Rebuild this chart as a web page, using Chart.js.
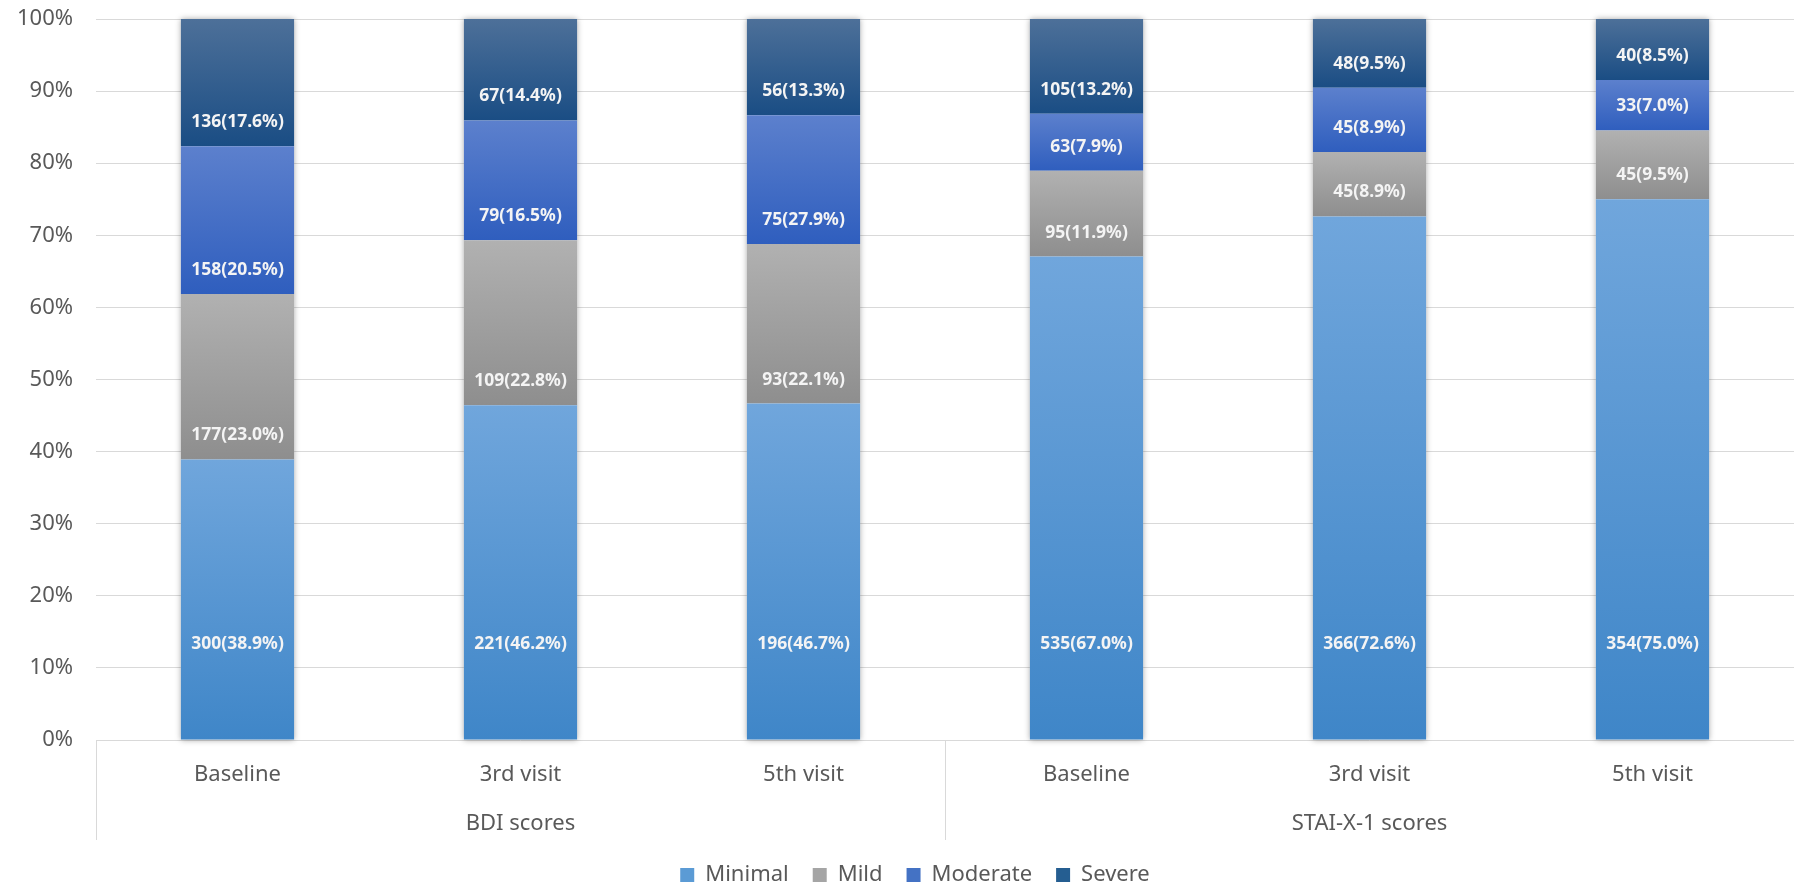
<!DOCTYPE html>
<html>
<head>
<meta charset="utf-8">
<script src="https://cdn.jsdelivr.net/npm/chart.js@4"></script>
<style>
  html, body { margin: 0; padding: 0; background: #ffffff; }
  #wrap { width: 1794px; height: 886px; }
</style>
</head>
<body>
<div id="wrap"><canvas id="scoreChart"></canvas></div>
<script>
const visits = ["Baseline", "3rd visit", "5th visit", "Baseline", "3rd visit", "5th visit"];
const groups = ["BDI scores", "STAI-X-1 scores"];
const levels = ["Minimal", "Mild", "Moderate", "Severe"];

// counts per level
const minimalN  = [300, 221, 196, 535, 366, 354];
const mildN     = [177, 109, 93, 95, 45, 45];
const moderateN = [158, 79, 75, 63, 45, 33];
const severeN   = [136, 67, 56, 105, 48, 40];

// percentages as printed in the labels
const minimalPct  = [38.9, 46.2, 46.7, 67.0, 72.6, 75.0];
const mildPct     = [23.0, 22.8, 22.1, 11.9, 8.9, 9.5];
const moderatePct = [20.5, 16.5, 27.9, 7.9, 8.9, 7.0];
const severePct   = [17.6, 14.4, 13.3, 13.2, 9.5, 8.5];

const yTicks = [0, 10, 20, 30, 40, 50, 60, 70, 80, 90, 100];

const counts = [minimalN, mildN, moderateN, severeN];
const pcts = [minimalPct, mildPct, moderatePct, severePct];
const colorTop = ["#70a6dc", "#b1b1b1", "#5c80cd", "#4d7099"];
const colorBottom = ["#3f86c8", "#8e8e8e", "#2f5ebe", "#1a4d84"];
const legendColor = ["#5b9bd5", "#a5a5a5", "#4472c4", "#255e91"];

// 100% stacked: each bar is its count share of the column total
const totals = visits.map((v, j) => counts.reduce((s, arr) => s + arr[j], 0));
const shares = counts.map(arr => arr.map((n, j) => n / totals[j] * 100));

function segGradient(i) {
  return function(context) {
    const chart = context.chart;
    const {ctx, chartArea, scales} = chart;
    if (!chartArea || context.dataIndex === undefined) return legendColor[i];
    const j = context.dataIndex;
    let base = 0;
    for (let k = 0; k < i; k++) base += shares[k][j];
    const top = scales.y.getPixelForValue(base + shares[i][j]);
    const bottom = scales.y.getPixelForValue(base);
    const g = ctx.createLinearGradient(0, top, 0, bottom);
    g.addColorStop(0, colorTop[i]);
    g.addColorStop(1, colorBottom[i]);
    return g;
  };
}

const textColor = "#595959";
const fontFam = "'Noto Sans', sans-serif";

/* soft shadow behind each whole stack */
const barShadow = {
  id: 'barShadow',
  beforeDatasetsDraw(chart) {
    const ctx = chart.ctx;
    const first = chart.getDatasetMeta(0).data;
    const last = chart.getDatasetMeta(levels.length - 1).data;
    ctx.save();
    ctx.shadowColor = "rgba(0,0,0,0.35)";
    ctx.shadowBlur = 6;
    ctx.fillStyle = "#ffffff";
    first.forEach((el, j) => {
      const w = el.width;
      ctx.fillRect(el.x - w / 2, last[j].y, w, el.base - last[j].y);
    });
    ctx.restore();
  }
};

/* count(pct%) labels near the base of each segment */
const segLabels = {
  id: 'segLabels',
  afterDatasetsDraw(chart) {
    const ctx = chart.ctx;
    ctx.save();
    ctx.font = "bold 17.5px " + fontFam;
    ctx.fillStyle = "#f4f4f4";
    ctx.textAlign = "center";
    ctx.textBaseline = "middle";
    levels.forEach((lv, i) => {
      chart.getDatasetMeta(i).data.forEach((el, j) => {
        const off = i === 0 ? 95 : 24;
        const txt = counts[i][j] + "(" + pcts[i][j].toFixed(1) + "%)";
        ctx.fillText(txt, el.x, el.base - off);
      });
    });
    ctx.restore();
  }
};

/* vertical separators of the grouped category axis */
const groupLines = {
  id: 'groupLines',
  afterDraw(chart) {
    const {ctx, chartArea, scales} = chart;
    const x = scales.x;
    const bottom = scales.x2.bottom;
    const mid = (x.getPixelForValue(2) + x.getPixelForValue(3)) / 2;
    ctx.save();
    ctx.strokeStyle = "#d9d9d9";
    ctx.lineWidth = 1;
    [chartArea.left, mid, chartArea.right].forEach(px => {
      const p = Math.round(px) + 0.5;
      ctx.beginPath();
      ctx.moveTo(p, chartArea.bottom);
      ctx.lineTo(p, bottom);
      ctx.stroke();
    });
    ctx.restore();
  }
};

/* legend sits a little right of the canvas centre */
const legendShift = {
  id: 'legendShift',
  afterLayout(chart) {
    if (chart.legend) {
      chart.legend.left += 18;
      chart.legend.right += 18;
    }
  }
};

new Chart(document.getElementById("scoreChart"), {
  type: "bar",
  data: {
    labels: visits,
    datasets: levels.map((lv, i) => ({
      label: lv,
      data: shares[i],
      backgroundColor: segGradient(i),
      borderWidth: 0,
      barPercentage: 0.4,
      categoryPercentage: 1.0
    }))
  },
  options: {
    responsive: true,
    maintainAspectRatio: false,
    animation: false,
    layout: { padding: { top: 19, right: 0, left: 0, bottom: -10 } },
    plugins: {
      tooltip: { enabled: false },
      legend: {
        position: "bottom",
        labels: {
          boxWidth: 14,
          boxHeight: 14,
          padding: 24,
          color: textColor,
          font: { family: fontFam, size: 22 },
          generateLabels(chart) {
            return levels.map((lv, i) => ({
              text: lv,
              fillStyle: legendColor[i],
              strokeStyle: legendColor[i],
              lineWidth: 0,
              fontColor: textColor,
              datasetIndex: i
            }));
          }
        }
      }
    },
    scales: {
      x: {
        stacked: true,
        grid: { display: false },
        border: { display: false },
        ticks: { color: textColor, padding: 14, font: { family: fontFam, size: 22 } },
        afterFit(scale) { scale.height = 50; }
      },
      x2: {
        type: "category",
        labels: groups,
        position: "bottom",
        offset: true,
        grid: { display: false },
        border: { display: false },
        ticks: { color: textColor, padding: 13, font: { family: fontFam, size: 22 } },
        afterFit(scale) { scale.height = 50; }
      },
      y: {
        stacked: true,
        min: 0,
        max: 100,
        afterBuildTicks(scale) { scale.ticks = yTicks.map(v => ({ value: v })); },
        grid: { color: "#d9d9d9", lineWidth: 1, drawTicks: false },
        border: { display: false },
        ticks: {
          color: textColor,
          padding: 23,
          font: { family: fontFam, size: 22 },
          callback: v => v + "%"
        },
        afterFit(scale) {
          scale.width = 96;
          scale.paddingTop = 0;
          scale.paddingBottom = 0;
        }
      }
    }
  },
  plugins: [barShadow, segLabels, groupLines, legendShift]
});
</script>
</body>
</html>
